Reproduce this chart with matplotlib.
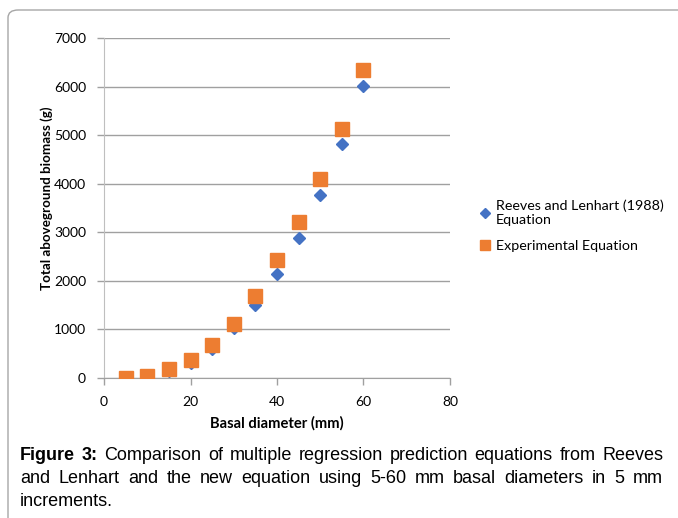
import matplotlib
matplotlib.use("Agg")
import matplotlib.pyplot as plt
from matplotlib.patches import FancyBboxPatch

diameter = [5, 10, 15, 20, 25, 30, 35, 40, 45, 50, 55, 60]
reeves = [10, 40, 150, 310, 600, 1030, 1510, 2135, 2875, 3775, 4820, 6005]
experimental = [5, 50, 185, 364, 673, 1112, 1682, 2436, 3205, 4104, 5134, 6335]
series_names = ["Reeves and Lenhart (1988)\nEquation", "Experimental Equation"]
xticks = [0, 20, 40, 60, 80]
yticks = [0, 1000, 2000, 3000, 4000, 5000, 6000, 7000]
xlabel = "Basal diameter (mm)"
ylabel = "Total aboveground biomass (g)"
caption_lines = [
    [("Figure", "bold"), ("3:", "bold"), "Comparison", "of", "multiple", "regression",
     "prediction", "equations", "from", "Reeves"],
    ["and", "Lenhart", "and", "the", "new", "equation", "using", "5-60", "mm", "basal",
     "diameters", "in", "5", "mm"],
    ["increments."],
]

W, H = 678, 518
fig = plt.figure(figsize=(W / 100, H / 100), dpi=100)
fig.patch.set_facecolor("white")

# rounded border
box = FancyBboxPatch((8 / W, -20 / H), (W + 20 - 8) / W, (H - 10 + 20) / H,
                     boxstyle="round,pad=0,rounding_size=0.015",
                     transform=fig.transFigure, fill=False,
                     edgecolor="#a6a6a6", linewidth=1.0)
fig.patches.append(box)

ax = fig.add_axes([104 / W, 1 - 378 / H, (450 - 104) / W, (378 - 38) / H])
tick_font = "Lato"
ax.plot(diameter, reeves, linestyle="none", marker="D", markersize=6.5,
        color="#4472C4", label=series_names[0], zorder=3)
ax.plot(diameter, experimental, linestyle="none", marker="s", markersize=9.5,
        color="#ED7D31", label=series_names[1], zorder=4)

ax.set_xlim(0, 80)
ax.set_ylim(0, 7000)
ax.set_xticks(xticks)
ax.set_yticks(yticks)
ax.set_xticklabels([str(v) for v in xticks], fontsize=10, family=tick_font)
ax.set_yticklabels([str(v) for v in yticks], fontsize=10, family=tick_font)
ax.yaxis.grid(True, color="#a0a0a0", linewidth=1.0)
ax.set_axisbelow(True)
for s in ["top", "right"]:
    ax.spines[s].set_visible(False)
ax.spines["left"].set_color("#bfbfbf")
ax.spines["bottom"].set_color("#a0a0a0")
ax.tick_params(axis="both", direction="out", length=5, color="#a0a0a0", width=1.0)
ax.tick_params(axis="x", pad=8)
ax.tick_params(axis="y", pad=8)
ax.set_xlabel(xlabel, fontsize=10.6, fontweight="bold", family=tick_font)
ax.set_ylabel(ylabel, fontsize=9.6, fontweight="bold", family=tick_font)
ax.xaxis.set_label_coords((277 - 104) / 346, (378 - 416) / 340)
ax.yaxis.set_label_coords((53 - 104) / 346, (378 - 198) / 340)

leg = ax.legend(loc="center left", bbox_to_anchor=(480 / W, 1 - 226 / H),
                bbox_transform=fig.transFigure, frameon=False,
                prop={"family": tick_font, "size": 10.3},
                handlelength=0.75, handletextpad=0.35, labelspacing=1.0,
                borderaxespad=0, borderpad=0)
leg.legend_handles[0].set_markersize(5.2)
leg.legend_handles[1].set_markersize(7.4)

# justified caption
fig.canvas.draw()
renderer = fig.canvas.get_renderer()
left_px, right_px = 20, 663
baselines = [460, 483, 506]
for i, line in enumerate(caption_lines):
    texts = []
    widths = []
    for seg in line:
        if isinstance(seg, tuple):
            word, weight = seg
        else:
            word, weight = seg, "normal"
        t = fig.text(0, 1 - baselines[i] / H, word, fontsize=13,
                     family="Liberation Sans", fontweight=weight,
                     va="baseline", ha="left")
        texts.append(t)
        widths.append(t.get_window_extent(renderer).width)
    if i < len(caption_lines) - 1 and len(texts) > 1:
        gap = (right_px - left_px - sum(widths)) / (len(texts) - 1)
    else:
        gap = 4
    x = left_px
    for t, w in zip(texts, widths):
        t.set_x(x / W)
        x += w + gap

fig.savefig("out.png", dpi=100, facecolor="white")
